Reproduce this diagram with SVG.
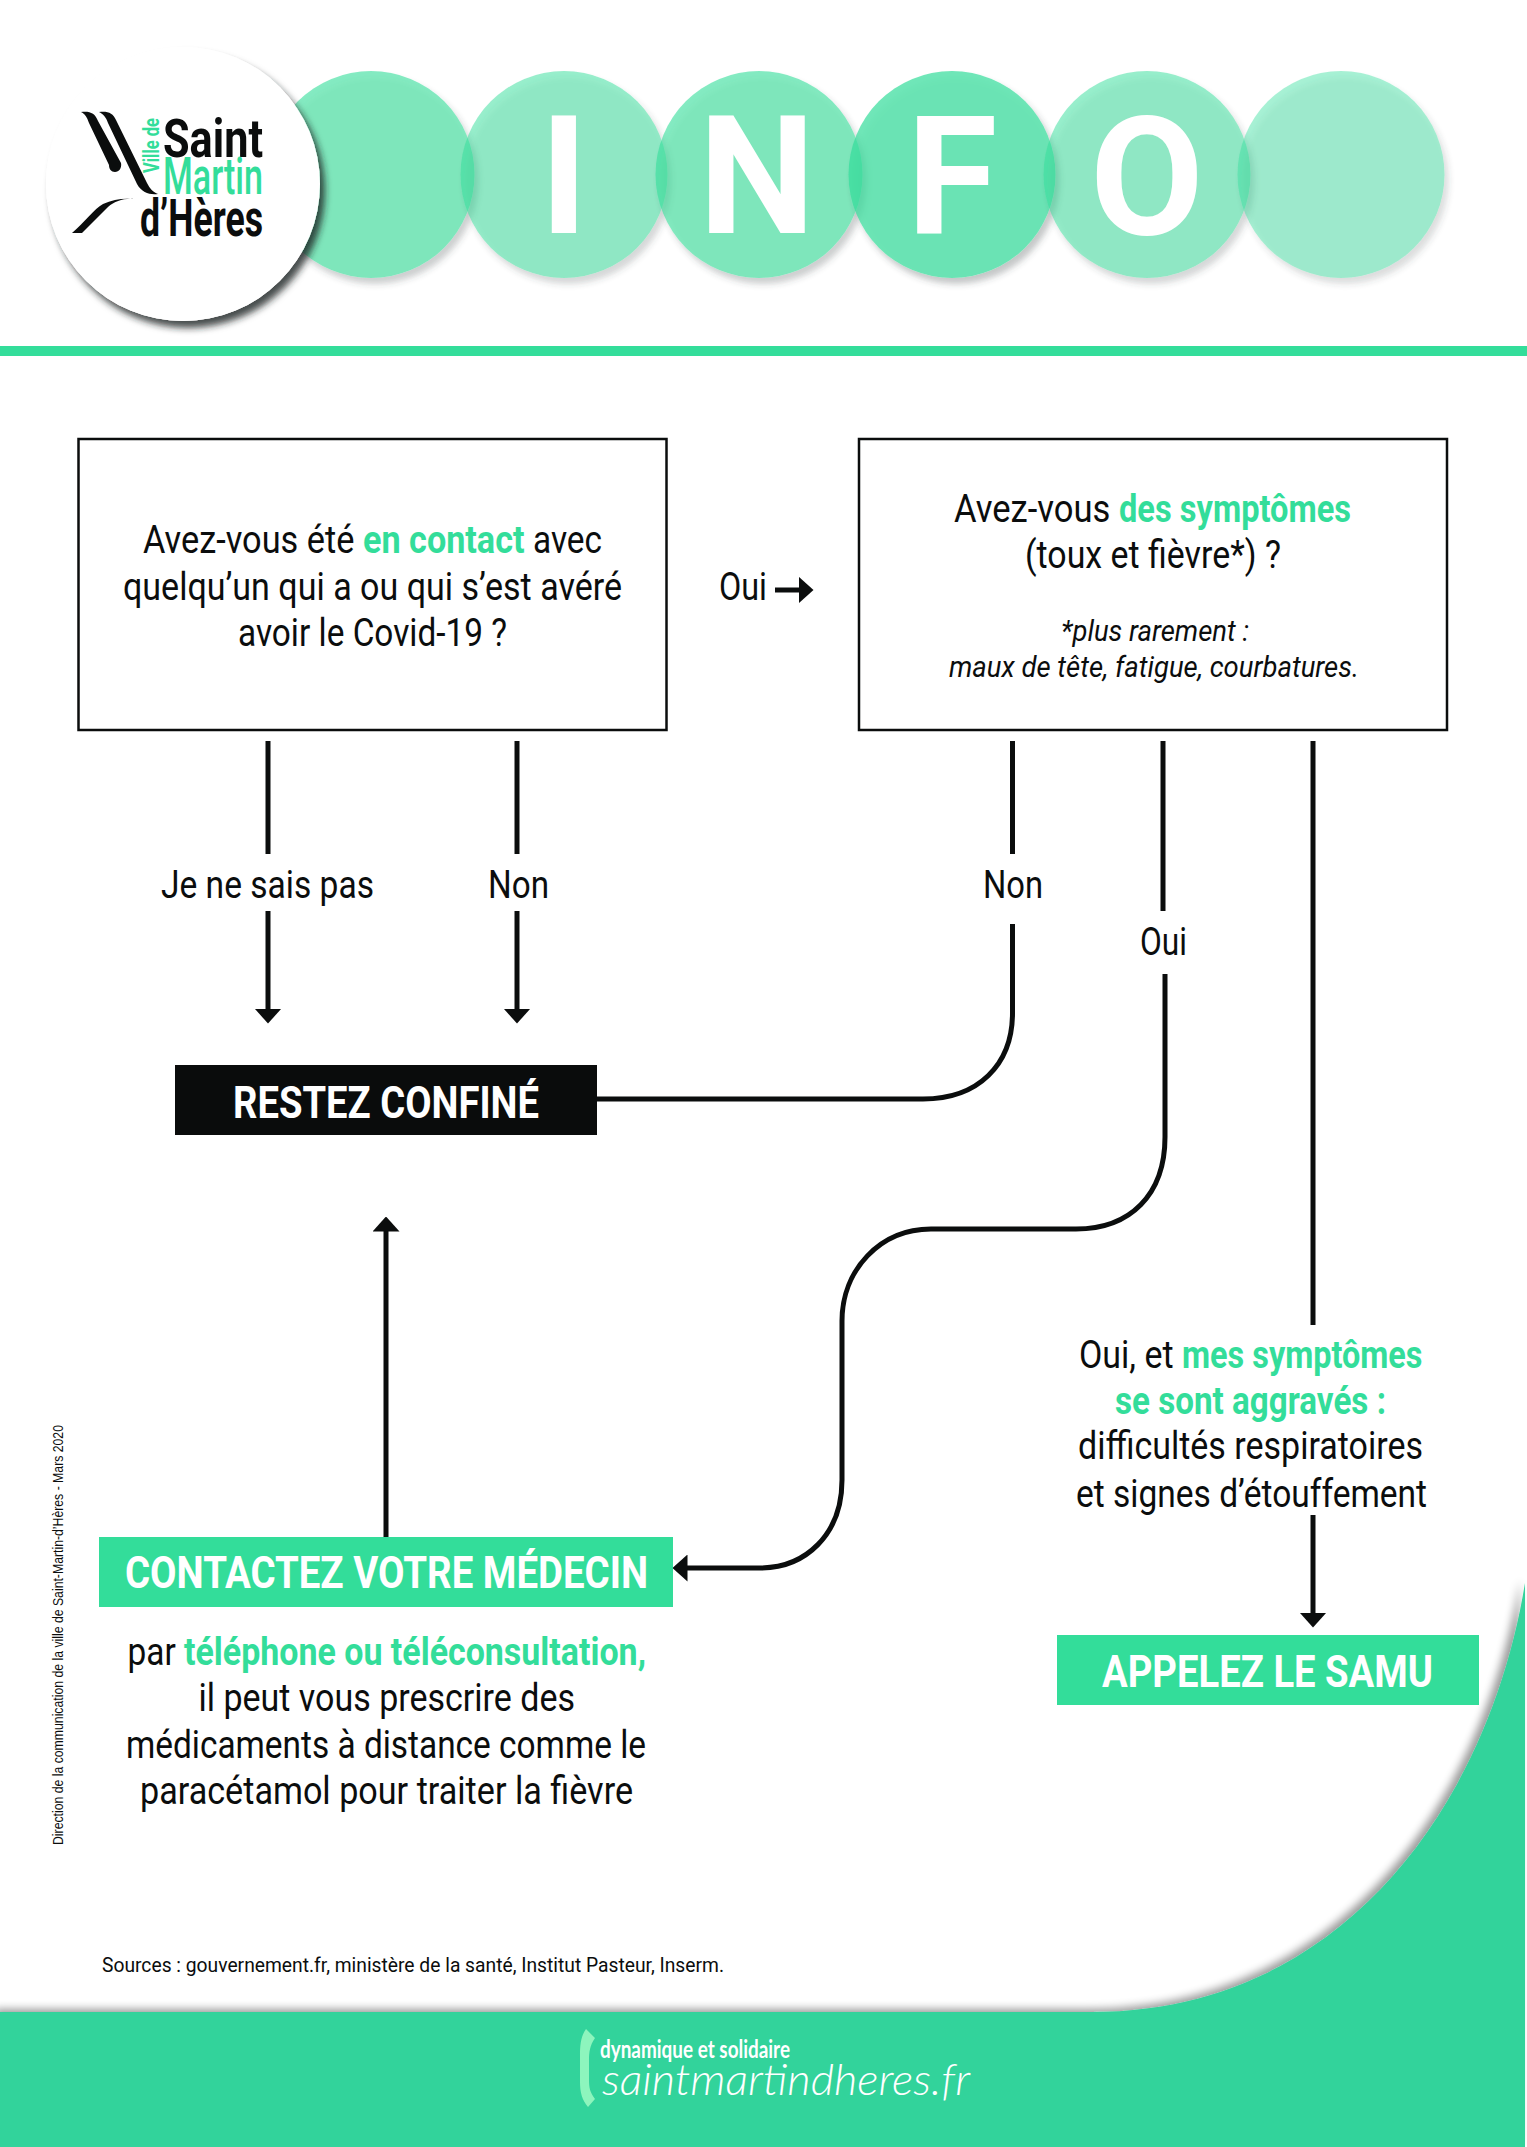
<svg xmlns="http://www.w3.org/2000/svg" width="1527" height="2147" viewBox="0 0 1527 2147">
<style>
text{font-family:Roboto,"Liberation Sans",sans-serif;fill:#0b0d0d}
.b{font-size:38px}
.i{font-size:29px;font-style:italic}
.g{font-weight:700;fill:#33dd9a}
.h{font-size:44px;font-weight:700;fill:#fff}
.big{font-size:165px;font-weight:700;fill:#fff;text-anchor:middle}
.box{fill:#fff;stroke:#0b0d0d;stroke-width:2.5}
.ln{fill:none;stroke:#0b0d0d;stroke-width:5}
.logo{font-weight:700}
.lat{font-family:Lato,"Open Sans",sans-serif;fill:#fff}
</style>
<defs>
<filter id="sc" x="-20%" y="-20%" width="140%" height="140%"><feGaussianBlur in="SourceAlpha" stdDeviation="3"/><feOffset dx="4" dy="6" result="o"/><feComposite in="o" in2="SourceAlpha" operator="out" result="s"/><feFlood flood-color="#3a4244" flood-opacity=".42"/><feComposite in2="s" operator="in"/><feMerge><feMergeNode/><feMergeNode in="SourceGraphic"/></feMerge></filter>
<filter id="sw" x="-20%" y="-20%" width="140%" height="140%"><feGaussianBlur in="SourceAlpha" stdDeviation="3.5"/><feOffset dx="5" dy="7" result="o"/><feComposite in="o" in2="SourceAlpha" operator="out" result="s"/><feFlood flood-color="#1c2222" flood-opacity=".8"/><feComposite in2="s" operator="in"/><feMerge><feMergeNode/><feMergeNode in="SourceGraphic"/></feMerge></filter>
<filter id="sf" x="-5%" y="-5%" width="110%" height="110%"><feGaussianBlur in="SourceAlpha" stdDeviation="4"/><feOffset dx="-5" dy="-3"/><feComponentTransfer><feFuncA type="linear" slope=".4"/></feComponentTransfer><feMerge><feMergeNode/><feMergeNode in="SourceGraphic"/></feMerge></filter>
<marker id="ah" markerUnits="userSpaceOnUse" markerWidth="15" markerHeight="27" viewBox="0 0 15 27" refX="0.5" refY="13.5" orient="auto"><path d="M0 0L15 13.5L0 27Z" fill="#0b0d0d"/></marker>
</defs>
<rect width="1527" height="2147" fill="#fff"/>

<g id="footer">
<path d="M0 2012H1092C1345 2012 1490 1800 1525 1583V2147H0Z" fill="#31d39b" filter="url(#sf)"/>
<path d="M586 2029L595 2038C590 2045 589 2052 589 2060V2080C589 2088 590 2092 595 2099L588 2107C582 2100 580 2092 580 2082V2056C580 2044 581 2036 586 2029Z" fill="#8df5bd"/>
<text class="lat" x="600" y="2058" font-size="25" font-weight="700" textLength="190" lengthAdjust="spacingAndGlyphs">dynamique et solidaire</text>
<text class="lat" x="602" y="2095" font-size="44" font-weight="300" font-style="italic" textLength="368" lengthAdjust="spacingAndGlyphs">saintmartindheres.fr</text>
</g>

<g id="header">
<circle cx="371" cy="174.5" r="103.5" fill="#33dd9a" fill-opacity=".6" filter="url(#sc)"/>
<circle cx="564" cy="174.5" r="103.5" fill="#33dd9a" fill-opacity=".5" filter="url(#sc)"/>
<circle cx="759" cy="174.5" r="103.5" fill="#33dd9a" fill-opacity=".6" filter="url(#sc)"/>
<circle cx="952" cy="174.5" r="103.5" fill="#33dd9a" fill-opacity=".7" filter="url(#sc)"/>
<circle cx="1147" cy="174.5" r="103.5" fill="#33dd9a" fill-opacity=".5" filter="url(#sc)"/>
<circle cx="1341" cy="174.5" r="103.5" fill="#33dd9a" fill-opacity=".42" filter="url(#sc)"/>
<text class="big" x="564" y="233">I</text>
<text class="big" x="757" y="233">N</text>
<text class="big" x="952" y="233">F</text>
<text class="big" x="1147" y="234">O</text>
<circle cx="183" cy="184" r="137" fill="#fff" filter="url(#sw)"/>
<rect y="346" width="1527" height="10" fill="#33dd9a"/>
</g>

<g id="logo">
<path d="M81 112C90 111 95 113 98 121L121 163C122 168 119 172 115 172C111 172 109 169 109 165L89 123C87 117 85 114 81 112Z" fill="#0b0d0d"/>
<path d="M99 112C108 111 113 113 116 120L147 183C150 189 153 192 158 194C150 195 142 193 137 184L108 123C106 117 103 114 99 112Z" fill="#0b0d0d"/>
<path d="M134 199C124 198 115 201 108 207L82 233H72C85 222 94 209 103 204C113 199 124 198 134 199Z" fill="#0b0d0d"/>
<text class="logo" x="163" y="157" font-size="54" textLength="100" lengthAdjust="spacingAndGlyphs">Saint</text>
<text x="163" y="194" font-size="52" font-weight="500" textLength="100" lengthAdjust="spacingAndGlyphs" style="fill:#33dd9a">Martin</text>
<text class="logo" x="140" y="236" font-size="52" textLength="123" lengthAdjust="spacingAndGlyphs">d’Hères</text>
<text x="159" y="173" transform="rotate(-90 159 173)" font-size="22" font-weight="700" textLength="55" lengthAdjust="spacingAndGlyphs" style="fill:#33dd9a">Ville de</text>
</g>

<g id="connectors">
<path class="ln" d="M268 741V854"/>
<path class="ln" d="M268 911V1009" marker-end="url(#ah)"/>
<path class="ln" d="M517 741V854"/>
<path class="ln" d="M517 911V1009" marker-end="url(#ah)"/>
<path class="ln" d="M1012.5 741V854"/>
<path class="ln" d="M1012.5 924V1013C1012.5 1065 978 1099 923 1099H597"/>
<path class="ln" d="M1163 741V911"/>
<path class="ln" d="M1165 974V1137C1165 1195 1130 1229 1076 1229H931C880 1229 842 1270 842 1321V1480C842 1535 805 1568 760 1568H687" marker-end="url(#ah)"/>
<path class="ln" d="M1313 741V1325"/>
<path class="ln" d="M1313 1515V1613" marker-end="url(#ah)"/>
<path class="ln" d="M386 1537V1231" marker-end="url(#ah)"/>
<path d="M775 590H799" class="ln" stroke-width="6" marker-end="url(#ah)"/>
<text class="b" x="161" y="898" textLength="213" lengthAdjust="spacingAndGlyphs">Je ne sais pas</text>
<text class="b" x="488" y="898" textLength="61" lengthAdjust="spacingAndGlyphs">Non</text>
<text class="b" x="983" y="898" textLength="60" lengthAdjust="spacingAndGlyphs">Non</text>
<text class="b" x="1140" y="955" textLength="47" lengthAdjust="spacingAndGlyphs">Oui</text>
<text class="b" x="719" y="600" textLength="48" lengthAdjust="spacingAndGlyphs">Oui</text>
</g>

<g id="q-contact">
<rect class="box" x="78.5" y="439" width="588" height="291"/>
<text class="b" y="553"><tspan x="143" textLength="220" lengthAdjust="spacingAndGlyphs">Avez-vous été </tspan><tspan class="g" x="363" textLength="170" lengthAdjust="spacingAndGlyphs">en contact </tspan><tspan x="533" textLength="69" lengthAdjust="spacingAndGlyphs">avec</tspan></text>
<text class="b" x="123" y="600" textLength="499" lengthAdjust="spacingAndGlyphs">quelqu’un qui a ou qui s’est avéré</text>
<text class="b" x="238" y="646" textLength="269" lengthAdjust="spacingAndGlyphs">avoir le Covid-19 ?</text>
</g>

<g id="q-symptomes">
<rect class="box" x="859" y="439" width="588" height="291"/>
<text class="b" y="522"><tspan x="954" textLength="165" lengthAdjust="spacingAndGlyphs">Avez-vous </tspan><tspan class="g" x="1119" textLength="232" lengthAdjust="spacingAndGlyphs">des symptômes</tspan></text>
<text class="b" x="1025" y="568" textLength="256" lengthAdjust="spacingAndGlyphs">(toux et fièvre*) ?</text>
<text class="i" x="1061" y="641" textLength="188" lengthAdjust="spacingAndGlyphs">*plus rarement :</text>
<text class="i" x="949" y="677" textLength="410" lengthAdjust="spacingAndGlyphs">maux de tête, fatigue, courbatures.</text>
</g>

<g id="restez">
<rect x="175" y="1065" width="422" height="70" fill="#0a0c0c"/>
<text class="h" x="233" y="1118" textLength="306" lengthAdjust="spacingAndGlyphs">RESTEZ CONFINÉ</text>
</g>

<g id="medecin">
<rect x="99" y="1537" width="574" height="70" fill="#33dd9a"/>
<text class="h" x="125" y="1588" textLength="523" lengthAdjust="spacingAndGlyphs">CONTACTEZ VOTRE MÉDECIN</text>
<text class="b" y="1665"><tspan x="127.5" textLength="56.5" lengthAdjust="spacingAndGlyphs">par </tspan><tspan class="g" x="184" textLength="462" lengthAdjust="spacingAndGlyphs">téléphone ou téléconsultation,</tspan></text>
<text class="b" x="198.5" y="1711" textLength="376.5" lengthAdjust="spacingAndGlyphs">il peut vous prescrire des</text>
<text class="b" x="126" y="1758" textLength="520" lengthAdjust="spacingAndGlyphs">médicaments à distance comme le</text>
<text class="b" x="140" y="1804" textLength="493" lengthAdjust="spacingAndGlyphs">paracétamol pour traiter la fièvre</text>
</g>

<g id="samu">
<text class="b" y="1368"><tspan x="1079" textLength="103" lengthAdjust="spacingAndGlyphs">Oui, et </tspan><tspan class="g" x="1182" textLength="240.5" lengthAdjust="spacingAndGlyphs">mes symptômes</tspan></text>
<text class="b g" x="1115" y="1414" textLength="271" lengthAdjust="spacingAndGlyphs">se sont aggravés :</text>
<text class="b" x="1078" y="1459" textLength="345" lengthAdjust="spacingAndGlyphs">difficultés respiratoires</text>
<text class="b" x="1076" y="1507" textLength="351" lengthAdjust="spacingAndGlyphs">et signes d’étouffement</text>
<rect x="1057" y="1635" width="422" height="70" fill="#33dd9a"/>
<text class="h" x="1102" y="1687" textLength="331" lengthAdjust="spacingAndGlyphs">APPELEZ LE SAMU</text>
</g>

<g id="credits">
<text x="102" y="1972" font-size="21" textLength="622" lengthAdjust="spacingAndGlyphs">Sources : gouvernement.fr, ministère de la santé, Institut Pasteur, Inserm.</text>
<text x="63" y="1845" transform="rotate(-90 63 1845)" font-size="14" textLength="420" lengthAdjust="spacingAndGlyphs" style="font-family:'Liberation Sans',sans-serif">Direction de la communication de la ville de Saint-Martin-d’Hères - Mars 2020</text>
</g>
</svg>
